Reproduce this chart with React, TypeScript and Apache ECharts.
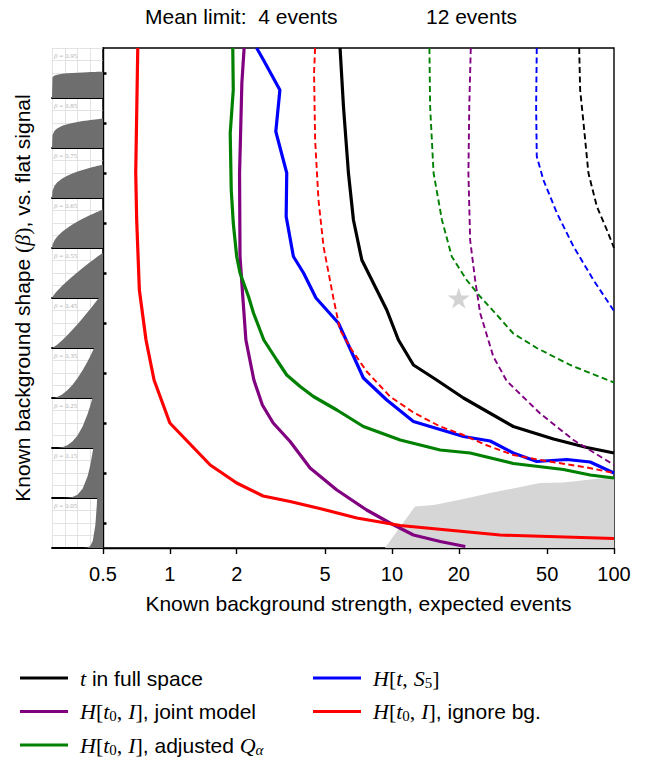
import { useEffect, useRef } from 'react';
import * as echarts from 'echarts';

const SANS = "'Liberation Sans', Arial, sans-serif";
const SERIF = "'Liberation Serif', 'DejaVu Serif', serif";

const X_TICKS = [0.5, 1, 2, 5, 10, 20, 50, 100];
const Y_TICKS = [0.05, 0.15, 0.25, 0.35, 0.45, 0.55, 0.65, 0.75, 0.85, 0.95];
const SHAPE_BETAS = [0.95, 0.85, 0.75, 0.65, 0.55, 0.45, 0.35, 0.25, 0.15, 0.05];

// background shape pdf heights, on the shared x grid
const SHAPE_X = [0, 0.01, 0.05, 0.1, 0.2, 0.3, 0.4, 0.5, 0.6, 0.7, 0.75, 0.8, 0.85, 0.88, 0.9, 0.95, 1];
const SHAPE_H = [
  [0, 0.83, 0.9, 0.93, 0.97, 0.99, 1.0, 1.01, 1.02, 1.03, 1.04, 1.04, 1.04, 1.05, 1.05, 1.05, 1.05],
  [0, 0.52, 0.69, 0.78, 0.89, 0.95, 1.0, 1.04, 1.08, 1.1, 1.12, 1.13, 1.14, 1.15, 1.15, 1.17, 1.18],
  [0, 0.29, 0.49, 0.62, 0.78, 0.89, 0.98, 1.06, 1.12, 1.18, 1.21, 1.24, 1.26, 1.28, 1.29, 1.31, 1.33],
  [0, 0.13, 0.31, 0.45, 0.65, 0.8, 0.94, 1.06, 1.17, 1.27, 1.32, 1.36, 1.41, 1.44, 1.45, 1.5, 1.54],
  [0, 0.04, 0.16, 0.28, 0.49, 0.68, 0.86, 1.03, 1.2, 1.36, 1.44, 1.51, 1.59, 1.64, 1.67, 1.74, 1.82],
  [0, 0.01, 0.06, 0.13, 0.31, 0.51, 0.73, 0.95, 1.19, 1.44, 1.56, 1.69, 1.82, 1.9, 1.95, 2.09, 2.22],
  [0, 0, 0.01, 0.04, 0.14, 0.31, 0.52, 0.79, 1.11, 1.47, 1.67, 1.89, 2.11, 2.25, 2.35, 2.6, 2.86],
  [0, 0, 0, 0, 0.03, 0.11, 0.26, 0.5, 0.86, 1.37, 1.69, 2.05, 2.46, 2.73, 2.92, 3.43, 4.0],
  [0, 0, 0, 0, 0, 0.01, 0.04, 0.13, 0.37, 0.88, 1.31, 1.88, 2.65, 3.23, 3.68, 5.0, 6.67],
  [0, 0, 0, 0, 0, 0, 0, 0, 0, 0.02, 0.08, 0.29, 0.91, 1.76, 2.7, 7.5, 20],
];

// Mean limit: 4 events  [expected bg events, beta]
const tFull4 = [[5.84, 1.0], [6.05, 0.883], [6.37, 0.75], [6.71, 0.656], [7.32, 0.576], [8.55, 0.516], [9.48, 0.476], [10.7, 0.416], [12.5, 0.366], [15.9, 0.336], [21.0, 0.3], [35.2, 0.243], [53.4, 0.218], [75.5, 0.201], [100, 0.19]];
const joint4 = [[2.16, 1.0], [2.11, 0.93], [2.06, 0.75], [2.07, 0.583], [2.13, 0.503], [2.2, 0.416], [2.39, 0.336], [2.61, 0.286], [2.92, 0.25], [3.48, 0.213], [4.28, 0.16], [5.65, 0.116], [7.7, 0.076], [9.8, 0.05], [12.5, 0.026], [16.5, 0.013], [21.4, 0.003]];
const adjusted4 = [[1.92, 1.0], [1.93, 0.916], [1.87, 0.83], [1.89, 0.716], [1.93, 0.65], [2.0, 0.583], [2.07, 0.55], [2.26, 0.503], [2.38, 0.47], [2.65, 0.416], [3.03, 0.376], [3.36, 0.346], [3.86, 0.323], [4.43, 0.303], [5.65, 0.276], [7.44, 0.243], [10.9, 0.216], [16.5, 0.196], [22.5, 0.19], [35.2, 0.169], [59.2, 0.157], [78.1, 0.146], [100, 0.14]];
const hts4 = [[2.46, 1.0], [2.64, 0.976], [3.13, 0.916], [3.0, 0.833], [3.36, 0.75], [3.34, 0.663], [3.6, 0.583], [4.0, 0.55], [4.55, 0.5], [5.74, 0.45], [7.44, 0.34], [9.48, 0.296], [12.5, 0.253], [21.0, 0.223], [27.7, 0.214], [35.2, 0.19], [44.9, 0.173], [61.4, 0.177], [78.1, 0.172], [100, 0.15]];
const ignore4 = [[0.717, 1.0], [0.702, 0.75], [0.709, 0.656], [0.729, 0.516], [0.781, 0.416], [0.849, 0.336], [1.0, 0.25], [1.52, 0.166], [2.0, 0.13], [2.63, 0.104], [3.48, 0.093], [4.73, 0.079], [6.95, 0.06], [10.9, 0.045], [30.7, 0.026], [100, 0.019]];

// Mean limit: 12 events
const tFull12 = [[69.7, 1.0], [70.4, 0.916], [72.9, 0.85], [76.7, 0.75], [83.7, 0.683], [92.9, 0.636], [100, 0.6]];
const joint12 = [[22.65, 1.0], [22.3, 0.883], [22.1, 0.75], [22.5, 0.616], [23.7, 0.536], [24.95, 0.47], [25.8, 0.449], [28.6, 0.383], [32.9, 0.334], [46.5, 0.269], [65.7, 0.216], [100, 0.166]];
const adjusted12 = [[14.75, 1.0], [14.86, 0.883], [15.4, 0.75], [16.8, 0.656], [18.6, 0.583], [21.7, 0.536], [24.95, 0.503], [30.7, 0.459], [35.2, 0.429], [44.9, 0.4], [63.5, 0.366], [100, 0.331]];
const hts12 = [[44.9, 1.0], [44.6, 0.883], [44.9, 0.783], [48.1, 0.736], [55.3, 0.67], [65.7, 0.603], [80.8, 0.536], [100, 0.474]];
const ignore12 = [[4.51, 1.0], [4.46, 0.95], [4.51, 0.816], [4.67, 0.696], [4.92, 0.603], [5.45, 0.5], [5.84, 0.436], [6.6, 0.396], [7.7, 0.353], [9.8, 0.303], [12.5, 0.271], [16.5, 0.243], [21.0, 0.226], [26.5, 0.206], [35.2, 0.186], [46.5, 0.176], [75.5, 0.161], [100, 0.15]];

// grey excluded region and reference point
const greyRegion = [[9.3, 0], [12.7, 0.083], [15.4, 0.086], [20.5, 0.097], [27.7, 0.11], [46.5, 0.13], [59, 0.131], [100, 0.142]];
const starPoint = [[20, 0.5]];

const LEGEND_NAMES = ['t in full space', 'H[t0,I], joint model', 'H[t0,I], adjusted Qα', 'H[t,S5]', 'H[t0,I], ignore bg.'];
const LEGEND_RICH: Record<string, string> = {
  't in full space': '{sp|}{i|t} in full space',
  'H[t0,I], joint model': '{sp|}{i|H}{r|[}{i|t}{sub|0}{r|,} {i|I}{r|]}, joint model',
  'H[t0,I], adjusted Qα': '{sp|}{i|H}{r|[}{i|t}{sub|0}{r|,} {i|I}{r|]}, adjusted {i|Q}{subi|α}',
  'H[t,S5]': '{sp|}{i|H}{r|[}{i|t}{r|,} {i|S}{sub|5}{r|]}',
  'H[t0,I], ignore bg.': '{sp|}{i|H}{r|[}{i|t}{sub|0}{r|,} {i|I}{r|]}, ignore bg.',
};
const COLORS = ['#000000', '#800080', '#008000', '#0000ff', '#ff0000'];
const SOLID = [tFull4, joint4, adjusted4, hts4, ignore4];
const DASHED = [tFull12, joint12, adjusted12, hts12, ignore12];

const STAR = 'path://M50,0 L61,35 L98,35 L68,57 L79,91 L50,70 L21,91 L32,57 L2,35 L39,35 Z';

const mathRich = {
  sp: { width: 7 },
  i: { fontFamily: SERIF, fontStyle: 'italic', fontSize: 22, lineHeight: 24 },
  r: { fontFamily: SERIF, fontSize: 22, lineHeight: 24 },
  sub: { fontFamily: SERIF, fontSize: 15, lineHeight: 14, verticalAlign: 'bottom' },
  subi: { fontFamily: SERIF, fontStyle: 'italic', fontSize: 15, lineHeight: 14, verticalAlign: 'bottom' },
};

function buildOption() {
  const STRIP_TOP = 48;
  const STRIP_H = 50;
  const grids: any[] = [{ left: 103, top: 48, width: 511, height: 500, show: true, borderColor: '#000', borderWidth: 1.4, backgroundColor: 'transparent' }];
  const xAxes: any[] = [{
    type: 'log', logBase: 10, min: 0.5, max: 100, gridIndex: 0, position: 'bottom',
    axisLine: { show: true, lineStyle: { color: '#000', width: 1.4 } },
    axisTick: { show: true, customValues: X_TICKS, length: 6, lineStyle: { color: '#000', width: 1.4 } },
    minorTick: { show: false },
    axisLabel: { customValues: X_TICKS, color: '#000', fontFamily: SANS, fontSize: 20, margin: 16, formatter: (v: number) => String(v) },
    splitLine: { show: false },
    name: 'Known background strength, expected events',
    nameLocation: 'middle', nameGap: 45,
    nameTextStyle: { color: '#000', fontFamily: SANS, fontSize: 21 },
  }];
  const yAxes: any[] = [
    {
      type: 'value', min: 0, max: 1, gridIndex: 0, position: 'left',
      axisLine: { show: true, lineStyle: { color: '#000', width: 1.4 } },
      axisTick: { show: true, customValues: Y_TICKS, length: 3.5, lineStyle: { color: '#000', width: 2.5 } },
      axisLabel: { show: false },
      splitLine: { show: false },
      name: 'Known background shape {r|(}{i|β}{r|)}, vs. flat signal',
      nameLocation: 'middle', nameGap: 69, nameRotate: 90,
      nameTextStyle: { color: '#000', fontFamily: SANS, fontSize: 21, rich: mathRich },
    },
    {
      type: 'value', min: 0, max: 1, gridIndex: 0, position: 'left', offset: 0,
      axisLine: { show: false },
      axisTick: { show: true, inside: true, customValues: Y_TICKS, length: 3.5, lineStyle: { color: '#000', width: 2.5 } },
      axisLabel: { show: false },
      splitLine: { show: false },
    },
  ];
  const series: any[] = [];
  const graphics: any[] = [];

  SHAPE_BETAS.forEach((beta, k) => {
    const gi = k + 1;
    grids.push({ left: 52, top: STRIP_TOP + STRIP_H * k, width: 51, height: STRIP_H });
    xAxes.push({
      type: 'value', gridIndex: gi, min: 0, max: 1, interval: 0.25, position: 'bottom',
      axisLine: { show: true, onZero: false, lineStyle: { color: '#000', width: 1.8 } },
      axisTick: { show: false }, axisLabel: { show: false },
      splitLine: { show: true, lineStyle: { color: '#dcdcdc', width: 0.8 } },
    });
    yAxes.push({
      type: 'value', gridIndex: gi, min: 0, max: 2, interval: 0.5, position: 'left',
      axisLine: { show: false }, axisTick: { show: false }, axisLabel: { show: false },
      splitLine: { show: true, lineStyle: { color: '#dcdcdc', width: 0.8 } },
    });
    series.push({
      type: 'line', name: 'shape ' + beta, xAxisIndex: gi, yAxisIndex: gi + 1,
      data: SHAPE_X.map((x, j) => [x, SHAPE_H[k][j]]),
      showSymbol: false, silent: true, clip: true,
      lineStyle: { width: 0 }, areaStyle: { color: '#6e6e6e', opacity: 1 },
      z: 2,
    });
    graphics.push({
      type: 'text', left: 54, top: STRIP_TOP + STRIP_H * k + 4,
      style: {
        text: '{i|β} = ' + beta.toFixed(2), fill: '#b4b4b4', fontFamily: SERIF, fontSize: 7,
        rich: { i: { fontStyle: 'italic', fontFamily: SERIF, fontSize: 7, fill: '#b4b4b4' } },
      },
    });
  });

  series.push({
    type: 'line', name: 'excluded', xAxisIndex: 0, yAxisIndex: 0, data: greyRegion,
    showSymbol: false, silent: true, lineStyle: { width: 0 },
    areaStyle: { color: '#d6d6d6', opacity: 1 }, z: 1,
  });
  SOLID.forEach((d, i) => {
    series.push({
      type: 'line', name: LEGEND_NAMES[i], xAxisIndex: 0, yAxisIndex: 0, data: d,
      showSymbol: false, color: COLORS[i], itemStyle: { color: COLORS[i] },
      lineStyle: { color: COLORS[i], width: 3.2 }, z: 3,
    });
  });
  DASHED.forEach((d, i) => {
    series.push({
      type: 'line', name: LEGEND_NAMES[i] + ' (12 events)', xAxisIndex: 0, yAxisIndex: 0, data: d,
      showSymbol: false, color: COLORS[i],
      lineStyle: { color: COLORS[i], width: 1.9, type: [6, 3.5] }, z: 4,
    });
  });
  series.push({
    type: 'scatter', name: 'reference', xAxisIndex: 0, yAxisIndex: 0, data: starPoint,
    symbol: STAR, symbolSize: [22, 21], itemStyle: { color: '#c8c8c8' }, z: 5,
  });

  const legendCommon = {
    orient: 'vertical', top: 666, itemWidth: 48, itemHeight: 3, itemGap: 9.5, icon: 'rect',
    selectedMode: false, padding: 0,
    formatter: (name: string) => LEGEND_RICH[name],
    textStyle: { color: '#000', fontFamily: SANS, fontSize: 21, lineHeight: 24, rich: mathRich },
  };

  return {
    animation: false,
    backgroundColor: '#fff',
    title: [
      { text: 'Mean limit:  4 events', left: 145, top: 6, padding: 0, textStyle: { color: '#000', fontFamily: SANS, fontSize: 21, fontWeight: 'normal' } },
      { text: '12 events', left: 426, top: 6, padding: 0, textStyle: { color: '#000', fontFamily: SANS, fontSize: 21, fontWeight: 'normal' } },
    ],
    legend: [
      { ...legendCommon, left: 20, data: LEGEND_NAMES.slice(0, 3) },
      { ...legendCommon, left: 313, data: LEGEND_NAMES.slice(3, 5) },
    ],
    grid: grids,
    xAxis: xAxes,
    yAxis: yAxes,
    series,
    graphic: graphics,
  };
}

export default function App() {
  const ref = useRef<HTMLDivElement>(null);
  useEffect(() => {
    if (!ref.current) return;
    const chart = echarts.init(ref.current, null, { renderer: 'svg' });
    chart.setOption(buildOption() as any);
    return () => chart.dispose();
  }, []);
  return (
    <div
      ref={ref}
      style={{ position: 'absolute', left: 0, top: 0, width: 645, height: 762, background: '#fff' }}
    />
  );
}
